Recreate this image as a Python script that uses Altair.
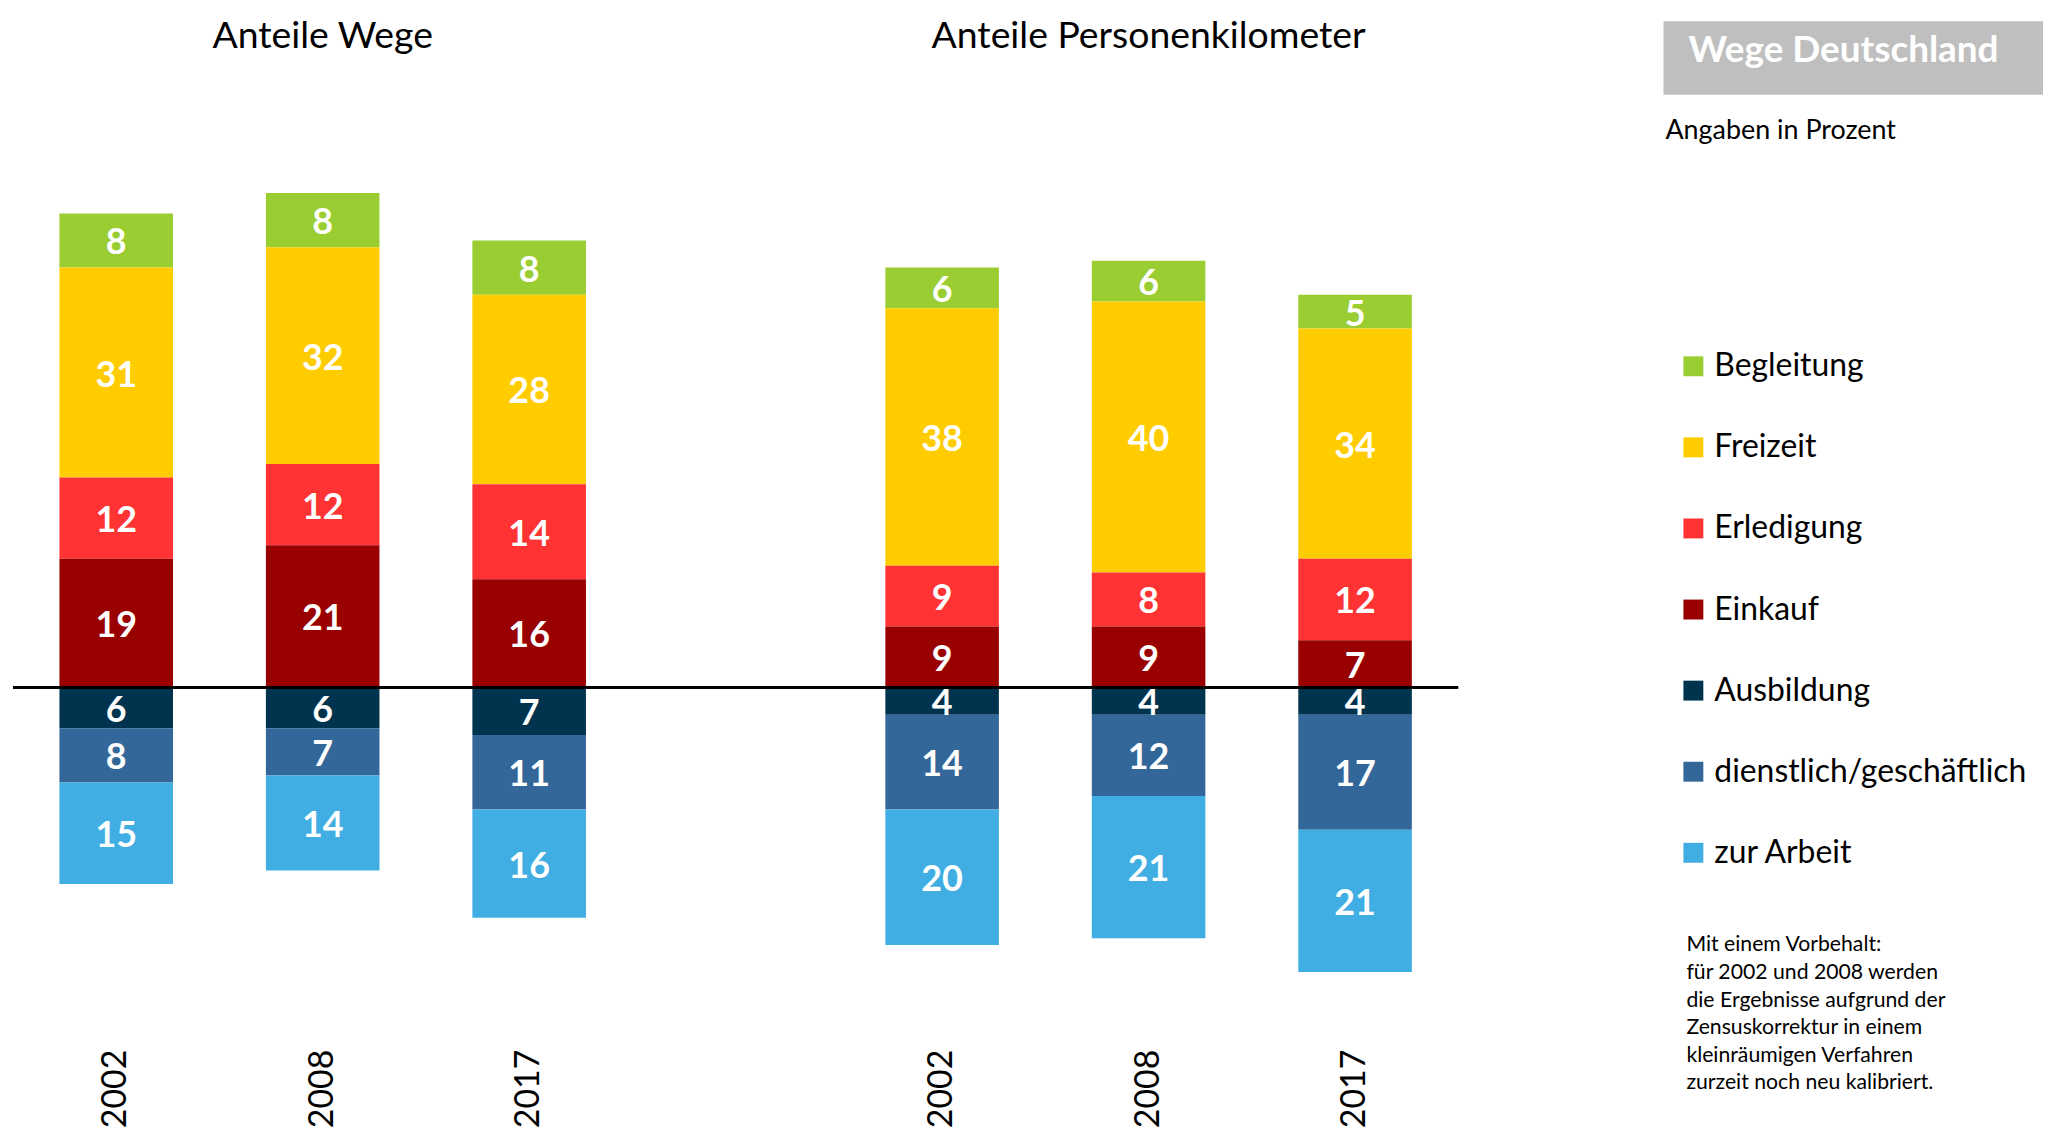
import altair as alt
import pandas as pd

# ---------------- data ----------------
categories = ["Begleitung", "Freizeit", "Erledigung", "Einkauf",
              "Ausbildung", "dienstlich/geschäftlich", "zur Arbeit"]
colors = ["#9ACD32", "#FFCC00", "#FF3333", "#990000",
          "#00334E", "#336699", "#40AEE3"]
below_zero = ["Ausbildung", "dienstlich/geschäftlich", "zur Arbeit"]
stack_order = [4, 3, 2, 1, 1, 2, 3]
years = ["2002", "2008", "2017"]
panel_titles = ["Anteile Wege", "Anteile Personenkilometer"]
panel_keys = ["W", "P"]

wege_begleitung = [8, 8, 8]
wege_freizeit = [31, 32, 28]
wege_erledigung = [12, 12, 14]
wege_einkauf = [19, 21, 16]
wege_ausbildung = [6, 6, 7]
wege_dienstlich = [8, 7, 11]
wege_arbeit = [15, 14, 16]

pkm_begleitung = [6, 6, 5]
pkm_freizeit = [38, 40, 34]
pkm_erledigung = [9, 8, 12]
pkm_einkauf = [9, 9, 7]
pkm_ausbildung = [4, 4, 4]
pkm_dienstlich = [14, 12, 17]
pkm_arbeit = [20, 21, 21]

box_title = "Wege Deutschland"
unit_note = "Angaben in Prozent"
note_lines = ["Mit einem Vorbehalt:",
              "für 2002 und 2008 werden",
              "die Ergebnisse aufgrund der",
              "Zensuskorrektur in einem",
              "kleinräumigen Verfahren",
              "zurzeit noch neu kalibriert."]

panel_values = {
    "W": [wege_begleitung, wege_freizeit, wege_erledigung, wege_einkauf,
          wege_ausbildung, wege_dienstlich, wege_arbeit],
    "P": [pkm_begleitung, pkm_freizeit, pkm_erledigung, pkm_einkauf,
          pkm_ausbildung, pkm_dienstlich, pkm_arbeit],
}

rows = []
for pk in panel_keys:
    for ci, cat in enumerate(categories):
        for yi, yr in enumerate(years):
            v = panel_values[pk][ci][yi]
            rows.append({
                "key": f"{pk}_{yr}",
                "category": cat,
                "value": -v if cat in below_zero else v,
                "label": v,
                "order": stack_order[ci],
            })
df = pd.DataFrame(rows)

x_domain = ["W_2002", "W_2008", "W_2017", "__", "P_2002", "P_2008", "P_2017"]
titles_df = pd.DataFrame({"key": ["W_2008", "P_2008"], "text": panel_titles})

# ---------------- scales / axes ----------------
FONT = "Lato"
x_scale = alt.Scale(domain=x_domain, paddingInner=0.45, paddingOuter=0.225)
y_scale = alt.Scale(domain=[-52.2, 100], nice=False, zero=False)
x_axis = alt.Axis(title=None, labelAngle=270, labelExpr="slice(datum.value, 2)",
                  domain=False, ticks=False, grid=False, labelFont=FONT,
                  labelFontSize=34, labelColor="#000000", labelPadding=8)

stacked = (alt.Chart(df)
           .transform_stack(stack="value", groupby=["key"],
                            sort=[alt.SortField("order", order="ascending")],
                            as_=["y0", "y1"])
           .transform_calculate(ymid="(datum.y0 + datum.y1) / 2"))

bars = stacked.mark_bar().encode(
    x=alt.X("key:N", scale=x_scale, axis=x_axis, sort=x_domain),
    y=alt.Y("y0:Q", scale=y_scale, axis=None),
    y2="y1:Q",
    color=alt.Color("category:N",
                    scale=alt.Scale(domain=categories, range=colors),
                    legend=alt.Legend(title=None, orient="none",
                                      legendX=1671, legendY=341.5,
                                      symbolType="square", symbolSize=400,
                                      symbolStrokeWidth=0,
                                      labelFont=FONT, labelFontSize=32,
                                      labelColor="#000000", labelOffset=5,
                                      rowPadding=49.4, padding=0,
                                      labelLimit=500)),
)

labels = stacked.mark_text(font=FONT, fontWeight="bold", fontSize=36,
                           color="white", align="center",
                           baseline="middle", dy=3).encode(
    x=alt.X("key:N", scale=x_scale, axis=x_axis, sort=x_domain),
    y=alt.Y("ymid:Q", scale=y_scale, axis=None),
    text=alt.Text("label:Q"),
)

zero_line = alt.Chart(pd.DataFrame({"z": [0]})).mark_rule(
    color="#000000", strokeWidth=3).encode(
    y=alt.Y("z:Q", scale=y_scale, axis=None))

titles = alt.Chart(titles_df).mark_text(
    font=FONT, fontSize=37.5, color="#000000", align="center",
    baseline="alphabetic").encode(
    x=alt.X("key:N", scale=x_scale, axis=x_axis, sort=x_domain),
    y=alt.value(38),
    text="text:N",
)

one = pd.DataFrame({"a": [0]})
box = alt.Chart(one).mark_rect(color="#BFBFBF").encode(
    x=alt.value(1657), x2=alt.value(2038), y=alt.value(11), y2=alt.value(85))
box_text = alt.Chart(one).mark_text(
    font=FONT, fontWeight="bold", fontSize=37, color="white",
    align="left", baseline="alphabetic").encode(
    x=alt.value(1682), y=alt.value(52), text=alt.value(box_title))
unit_text = alt.Chart(one).mark_text(
    font=FONT, fontSize=27, color="#000000",
    align="left", baseline="alphabetic").encode(
    x=alt.value(1659), y=alt.value(129), text=alt.value(unit_note))
notes = alt.Chart(one).mark_text(
    font=FONT, fontSize=21.3, color="#000000", lineHeight=27.7,
    align="left", baseline="alphabetic").encode(
    x=alt.value(1680), y=alt.value(945), text=alt.value(note_lines))

chart = (alt.layer(bars, labels, zero_line, titles, box, box_text, unit_text, notes)
         .properties(width=1451, height=1035,
                     padding={"left": 3, "top": 0, "right": 0, "bottom": 0},
                     background="white")
         .configure_view(stroke=None))

chart.save("out.html", embed_options={"renderer": "svg", "actions": False})
